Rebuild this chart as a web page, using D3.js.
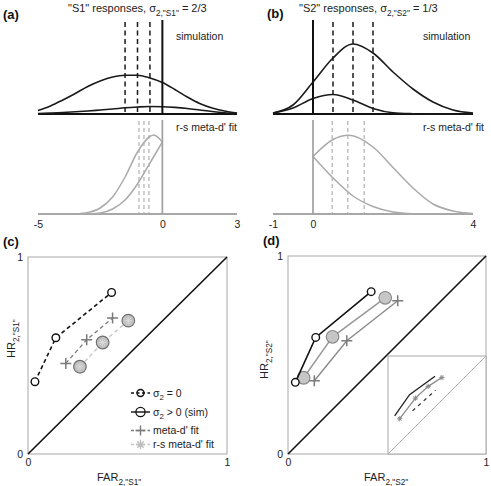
<!DOCTYPE html>
<html>
<head>
<meta charset="utf-8">
<script src="https://cdn.jsdelivr.net/npm/d3@7"></script>
<style>
  body { margin: 0; background: #fff; }
  text { font-family: "Liberation Sans", Arial, Helvetica, sans-serif; }
</style>
</head>
<body>
<svg id="fig" width="491" height="486"></svg>
<script>
// ---- panel (a): "S1" responses ----
const ticksA = [-5, 0, 3];
const critSimA = [-1.5, -1, -0.5];
const critFitA = [-0.94, -0.74, -0.54];
const gridSimA = [-5, -4.5, -4, -3.5, -3, -2.5, -2, -1.5, -1, -0.5, 0, 0.5, 1, 1.5, 2, 2.5, 3];
const simA_big = [3.5, 8, 14, 20.5, 27.5, 33, 37, 38.8, 38.8, 36, 31.5, 24.5, 17, 10.5, 6, 3, 1];
const simA_small = [0.5, 1, 1.5, 2.2, 3, 4, 5, 6.2, 7, 7.5, 7.3, 6.6, 5.5, 4, 2.5, 1.3, 0.5];
const gridFitA1 = [-3.5, -3, -2.5, -2, -1.5, -1, -0.5, -0.35, 0];
const fitA1 = [0, 1.5, 6, 17, 37, 62, 77.5, 79, 72];
const gridFitA2 = [-3, -2.5, -2, -1.5, -1, -0.5, 0];
const fitA2 = [0, 1, 5, 14, 30, 51, 72];

// ---- panel (b): "S2" responses ----
const ticksB = [-1, 0, 4];
const critSimB = [0.5, 1, 1.5];
const critFitB = [0.48, 0.87, 1.28];
const gridSimB = [-1, -0.5, 0, 0.5, 1, 1.5, 2, 2.5, 3, 3.5, 4];
const simB_big = [1, 9, 32, 56, 70, 61, 42, 25, 12, 4, 1];
const simB_small = [1, 6, 15.5, 19.5, 14, 5.5, 1.2, 0.3, 0, 0, 0];
const gridFitB1 = [0, 0.5, 0.9, 1.5, 2, 2.5, 3, 3.5, 4];
const fitB1 = [57.5, 74.5, 78.7, 67, 46.5, 26, 10, 3, 0.5];
const gridFitB2 = [0, 0.5, 1, 1.5, 2, 2.5, 3];
const fitB2 = [57.5, 36, 18, 7.5, 2, 0.3, 0];

// ---- panel (c): type 2 ROC, "S1" ----
const farC_sig0 = [0.035, 0.14, 0.42];
const hrC_sig0 = [0.367, 0.59, 0.82];
const farC_meta = [0.19, 0.295, 0.425];
const hrC_meta = [0.46, 0.58, 0.69];
const farC_rs = [0.261, 0.375, 0.504];
const hrC_rs = [0.443, 0.566, 0.677];

// ---- panel (d): type 2 ROC, "S2" ----
const farD_sig0 = [0.037, 0.14, 0.42];
const hrD_sig0 = [0.362, 0.589, 0.82];
const farD_rs = [0.079, 0.225, 0.491];
const hrD_rs = [0.385, 0.592, 0.789];
const farD_meta = [0.133, 0.297, 0.554];
const hrD_meta = [0.37, 0.572, 0.774];
// inset (d)
const inBlackX = [0.068, 0.22, 0.48];
const inBlackY = [0.39, 0.606, 0.794];
const inGrayX = [0.12, 0.28, 0.41, 0.55];
const inGrayY = [0.36, 0.57, 0.69, 0.78];
const inDashX = [0.25, 0.485];
const inDashY = [0.44, 0.65];

const legendLabels = [
  [{ t: "σ" }, { t: "2", sub: true }, { t: " = 0" }],
  [{ t: "σ" }, { t: "2", sub: true }, { t: " > 0 (sim)" }],
  [{ t: "meta-d' fit" }],
  [{ t: "r-s meta-d' fit" }],
];

const svg = d3.select("#fig");

function zip(a, b) { return a.map((d, i) => [d, b[i]]); }

// text with optional subscript pieces
function label(g, x, y, parts, size, opts = {}) {
  const t = g.append("text").attr("font-size", size).attr("fill", opts.fill || "#222");
  if (opts.rotate) t.attr("transform", `translate(${x},${y}) rotate(-90)`);
  else t.attr("x", x).attr("y", y);
  if (opts.weight) t.attr("font-weight", opts.weight);
  let prevSub = false;
  parts.forEach((p) => {
    const s = typeof p === "string" ? { t: p } : p;
    const ts = t.append("tspan").text(s.t);
    if (s.sub && !prevSub) ts.attr("font-size", size * 0.75).attr("dy", size * 0.32);
    else if (!s.sub && prevSub) ts.attr("dy", -size * 0.32);
    prevSub = !!s.sub;
  });
  return t;
}

function marker(g, type, cx, cy, r, stroke, fill, sw) {
  if (type === "circle") {
    g.append("circle").attr("cx", cx).attr("cy", cy).attr("r", r)
      .attr("fill", fill).attr("stroke", stroke).attr("stroke-width", sw);
  } else {
    let d = `M${cx - r},${cy}H${cx + r}M${cx},${cy - r}V${cy + r}`;
    const q = r * 0.72;
    if (type === "star") d += `M${cx - q},${cy - q}L${cx + q},${cy + q}M${cx - q},${cy + q}L${cx + q},${cy - q}`;
    g.append("path").attr("d", d).attr("stroke", stroke).attr("stroke-width", sw).attr("fill", "none");
  }
}

// ---------- density panels ----------
function densityPanel(x, ticks, simGrids, simVals, critSim, fitGrids, fitVals, critFit) {
  const g = svg.append("g");
  const ySim = d3.scaleLinear([0, 100], [114, 14]);
  const yFit = d3.scaleLinear([0, 100], [214, 114]);
  const [d0, d1] = x.domain();

  // simulation
  g.append("line").attr("x1", x(d0)).attr("x2", x(d1)).attr("y1", ySim(0)).attr("y2", ySim(0))
    .attr("stroke", "#111").attr("stroke-width", 2);
  const lineSim = d3.line().x((d) => x(d[0])).y((d) => ySim(d[1])).curve(d3.curveMonotoneX);
  simGrids.forEach((gr, i) => {
    g.append("path").attr("d", lineSim(zip(gr, simVals[i]))).attr("fill", "none")
      .attr("stroke", "#1a1a1a").attr("stroke-width", 1.6);
  });
  critSim.forEach((c) => {
    g.append("line").attr("x1", x(c)).attr("x2", x(c)).attr("y1", 22).attr("y2", ySim(0))
      .attr("stroke", "#1a1a1a").attr("stroke-width", 1.5).attr("stroke-dasharray", "5,3.5");
  });
  g.append("line").attr("x1", x(0)).attr("x2", x(0)).attr("y1", 20).attr("y2", ySim(0))
    .attr("stroke", "#111").attr("stroke-width", 2);

  // r-s meta-d' fit
  g.append("line").attr("x1", x(d0)).attr("x2", x(d1)).attr("y1", yFit(0)).attr("y2", yFit(0))
    .attr("stroke", "#8a8a8a").attr("stroke-width", 1.5);
  const lineFit = d3.line().x((d) => x(d[0])).y((d) => yFit(d[1])).curve(d3.curveMonotoneX);
  fitGrids.forEach((gr, i) => {
    g.append("path").attr("d", lineFit(zip(gr, fitVals[i]))).attr("fill", "none")
      .attr("stroke", "#aaa").attr("stroke-width", 1.5);
  });
  critFit.forEach((c) => {
    g.append("line").attr("x1", x(c)).attr("x2", x(c)).attr("y1", 121).attr("y2", yFit(0))
      .attr("stroke", "#b0b0b0").attr("stroke-width", 1.2).attr("stroke-dasharray", "4,3");
  });
  g.append("line").attr("x1", x(0)).attr("x2", x(0)).attr("y1", 120).attr("y2", yFit(0))
    .attr("stroke", "#a0a0a0").attr("stroke-width", 1.7);

  const ax = g.append("g").attr("transform", `translate(0,${yFit(0)})`)
    .call(d3.axisBottom(x).tickValues(ticks).tickSize(0).tickPadding(7).tickFormat((d) => String(d)));
  ax.select(".domain").remove();
  ax.selectAll("text").attr("font-size", 10.5).attr("fill", "#222")
    .attr("font-family", '"Liberation Sans", Arial, sans-serif');
  return g;
}

const xA = d3.scaleLinear([-5, 3], [38, 237]);
densityPanel(xA, ticksA, [gridSimA, gridSimA], [simA_big, simA_small], critSimA,
  [gridFitA1, gridFitA2], [fitA1, fitA2], critFitA);
const xB = d3.scaleLinear([-1, 4], [273, 473]);
densityPanel(xB, ticksB, [gridSimB, gridSimB], [simB_big, simB_small], critSimB,
  [gridFitB1, gridFitB2], [fitB1, fitB2], critFitB);

label(svg, 3, 19, ["(a)"], 13, { weight: "bold", fill: "#111" });
label(svg, 267, 18, ["(b)"], 13, { weight: "bold", fill: "#111" });
label(svg, 3, 246, ["(c)"], 13, { weight: "bold", fill: "#111" });
label(svg, 263, 245, ["(d)"], 13, { weight: "bold", fill: "#111" });

label(svg, 68, 12, ['"S1" responses, σ', { t: '2,"S1"', sub: true }, " = 2/3"], 11);
label(svg, 299, 12, ['"S2" responses, σ', { t: '2,"S2"', sub: true }, " = 1/3"], 11);
label(svg, 176, 40, ["simulation"], 10.5);
label(svg, 423, 40, ["simulation"], 10.5);
label(svg, 176, 131, ["r-s meta-d' fit"], 10.5);
label(svg, 423, 131, ["r-s meta-d' fit"], 10.5);

// ---------- ROC panels ----------
function rocFrame(x, y) {
  const g = svg.append("g");
  g.append("rect").attr("x", x(0)).attr("y", y(1)).attr("width", x(1) - x(0)).attr("height", y(0) - y(1))
    .attr("fill", "none").attr("stroke", "#a8a8a8").attr("stroke-width", 1);
  g.append("line").attr("x1", x(0)).attr("y1", y(0)).attr("x2", x(1)).attr("y2", y(1))
    .attr("stroke", "#111").attr("stroke-width", 1.6);
  const ax = g.append("g").attr("transform", `translate(0,${y(0)})`)
    .call(d3.axisBottom(x).tickValues([0, 1]).tickSize(0).tickPadding(5).tickFormat((d) => String(d)));
  const ay = g.append("g").attr("transform", `translate(${x(0)},0)`)
    .call(d3.axisLeft(y).tickValues([0, 1]).tickSize(0).tickPadding(5).tickFormat((d) => String(d)));
  [ax, ay].forEach((a) => {
    a.select(".domain").remove();
    a.selectAll("text").attr("font-size", 10.5).attr("fill", "#222")
      .attr("font-family", '"Liberation Sans", Arial, sans-serif');
  });
  return g;
}

function series(g, x, y, xs, ys, opt) {
  const pts = zip(xs, ys);
  const line = d3.line().x((d) => x(d[0])).y((d) => y(d[1]));
  g.append("path").attr("d", line(pts)).attr("fill", "none").attr("stroke", opt.line)
    .attr("stroke-width", opt.lw || 1.5).attr("stroke-dasharray", opt.dash || null);
  pts.forEach((p) => marker(g, opt.marker, x(p[0]), y(p[1]), opt.r, opt.mstroke || opt.line, opt.fill || "none", opt.msw || 1.4));
}

// (c)
const xC = d3.scaleLinear([0, 1], [28, 227]);
const yC = d3.scaleLinear([0, 1], [454, 257]);
const gC = rocFrame(xC, yC);
series(gC, xC, yC, farC_rs, hrC_rs, { line: "#c4c4c4", dash: "4,3", lw: 1.3, marker: "circle", r: 6.3, fill: "#c2c2c2", mstroke: "#707070", msw: 1.2 });
farC_rs.forEach((f, i) => marker(gC, "star", xC(f), yC(hrC_rs[i]), 3.5, "#dadada", "none", 1));
series(gC, xC, yC, farC_meta, hrC_meta, { line: "#7a7a7a", dash: "4,3", lw: 1.3, marker: "plus", r: 5.5, msw: 1.5 });
series(gC, xC, yC, farC_sig0, hrC_sig0, { line: "#111", dash: "4,3", lw: 1.6, marker: "circle", r: 3.8, fill: "#fff", msw: 1.4 });

label(gC, 97, 481, ["FAR", { t: '2,"S1"', sub: true }], 11);
label(gC, 15, 358, ["HR", { t: '2,"S1"', sub: true }], 11, { rotate: true });

// legend (c)
const legY = [393, 412, 430.5, 444.5];
const legStyles = [
  { line: "#111", dash: "3,2.5", marker: "circle", r: 3.5, stroke: "#111", fill: "none", sw: 1.4 },
  { line: "#111", dash: null, marker: "circle", r: 4.6, stroke: "#111", fill: "none", sw: 1.3 },
  { line: "#7a7a7a", dash: "3,2.5", marker: "plus", r: 5, stroke: "#7a7a7a", fill: "none", sw: 1.4 },
  { line: "#c4c4c4", dash: "3,2.5", marker: "star", r: 4.5, stroke: "#bdbdbd", fill: "none", sw: 1.3 },
];
legendLabels.forEach((lab, i) => {
  const s = legStyles[i];
  gC.append("line").attr("x1", 131).attr("x2", 150).attr("y1", legY[i]).attr("y2", legY[i])
    .attr("stroke", s.line).attr("stroke-width", 1.4).attr("stroke-dasharray", s.dash);
  marker(gC, s.marker, 140.5, legY[i], s.r, s.stroke, s.fill, s.sw);
  label(gC, 153, legY[i] + 3.6, lab, 10.5);
});

// (d)
const xD = d3.scaleLinear([0, 1], [288, 486]);
const yD = d3.scaleLinear([0, 1], [454, 256]);
const gD = rocFrame(xD, yD);
series(gD, xD, yD, farD_meta, hrD_meta, { line: "#8a8a8a", lw: 1.4, marker: "plus", r: 5.5, msw: 1.5, mstroke: "#7a7a7a" });
series(gD, xD, yD, farD_rs, hrD_rs, { line: "#9a9a9a", lw: 1.5, marker: "circle", r: 6.3, fill: "#c6c6c6", mstroke: "#8a8a8a", msw: 1.2 });
series(gD, xD, yD, farD_sig0, hrD_sig0, { line: "#111", lw: 1.6, marker: "circle", r: 3.8, fill: "#fff", msw: 1.4 });

// inset
const xI = d3.scaleLinear([0, 1], [388, 486]);
const yI = d3.scaleLinear([0, 1], [454, 356]);
gD.append("rect").attr("x", xI(0)).attr("y", yI(1)).attr("width", xI(1) - xI(0)).attr("height", yI(0) - yI(1))
  .attr("fill", "#fff").attr("stroke", "#a8a8a8").attr("stroke-width", 1);
gD.append("line").attr("x1", xI(0)).attr("y1", yI(0)).attr("x2", xI(1)).attr("y2", yI(1))
  .attr("stroke", "#b0b0b0").attr("stroke-width", 1);
const lineI = d3.line().x((d) => xI(d[0])).y((d) => yI(d[1]));
gD.append("path").attr("d", lineI(zip(inBlackX, inBlackY))).attr("fill", "none").attr("stroke", "#222").attr("stroke-width", 1.3);
gD.append("path").attr("d", lineI(zip(inDashX, inDashY))).attr("fill", "none").attr("stroke", "#333")
  .attr("stroke-width", 1.3).attr("stroke-dasharray", "3.5,4");
gD.append("path").attr("d", lineI(zip(inGrayX, inGrayY))).attr("fill", "none").attr("stroke", "#8a8a8a").attr("stroke-width", 1.3);
inGrayX.forEach((v, i) => marker(gD, "star", xI(v), yI(inGrayY[i]), 2.6, "#8a8a8a", "none", 1));

label(gD, 364, 481, ["FAR", { t: '2,"S2"', sub: true }], 11);
label(gD, 268, 379, ["HR", { t: '2,"S2"', sub: true }], 11, { rotate: true });
</script>
</body>
</html>
